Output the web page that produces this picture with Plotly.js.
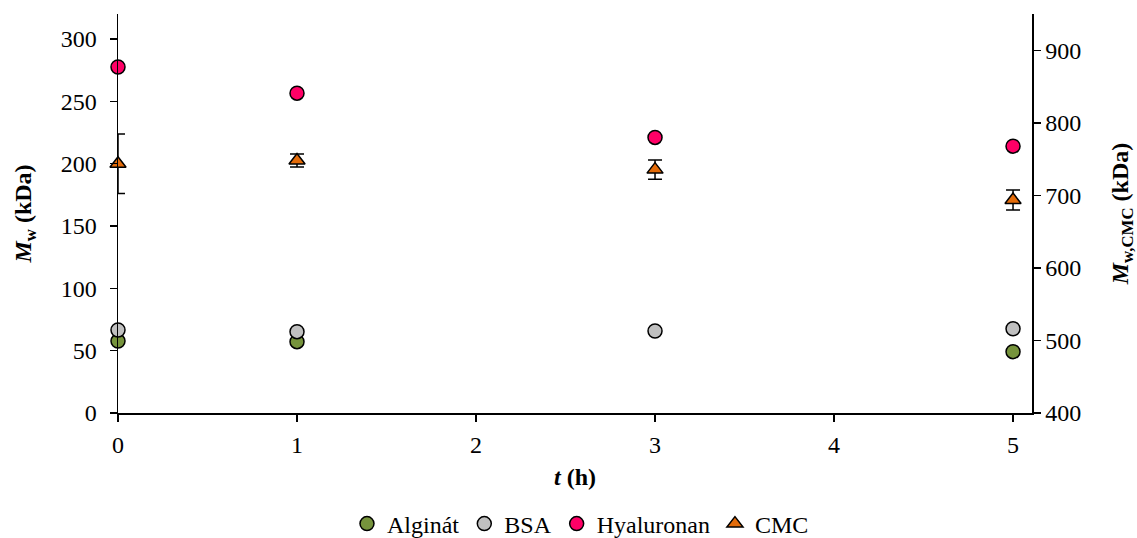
<!DOCTYPE html>
<html>
<head>
<meta charset="utf-8">
<script src="https://cdn.plot.ly/plotly-3.0.1.min.js"></script>
<style>html,body{margin:0;padding:0;background:#fff;}#chart{width:1137px;height:538px;}</style>
</head>
<body>
<div id="chart"></div>
<script>
const tAlginat = [0, 1, 5];
const alginat = [57.7, 57.2, 49.2];
const tBSA = [0, 1, 3, 5];
const bsa = [66.6, 65.2, 65.8, 67.6];
const tHyal = [0, 1, 3, 5];
const hyaluronan = [277.5, 256.5, 221, 214];
const tCMC = [0, 1, 3, 5];
const cmc = [743.5, 748, 735.5, 693.5];
const cmcErr = [41, 9, 13.3, 13.8];

const FONT = 'Liberation Serif';
const FS = 24;
const line = {color: '#000000', width: 1.5};

const traces = [
  {x: tAlginat, y: alginat, name: 'Alginát', type: 'scatter', mode: 'markers', cliponaxis: false,
   marker: {symbol: 'circle', size: 14, color: '#76933C', line: line}},
  {x: tBSA, y: bsa, name: 'BSA', type: 'scatter', mode: 'markers', cliponaxis: false,
   marker: {symbol: 'circle', size: 14, color: '#C0C0C0', line: line}},
  {x: tHyal, y: hyaluronan, name: 'Hyaluronan', type: 'scatter', mode: 'markers', cliponaxis: false,
   marker: {symbol: 'circle', size: 14, color: '#FF0066', line: line}},
  {x: tCMC, y: cmc, name: 'CMC', type: 'scatter', mode: 'markers', yaxis: 'y2', cliponaxis: false,
   marker: {symbol: 'triangle-up', size: 14, color: '#E46C0A', line: line},
   error_y: {type: 'data', array: cmcErr, visible: true, color: '#000000', thickness: 1.5, width: 7}}
];

const layout = {
  width: 1137, height: 538,
  margin: {l: 118, r: 105, t: 14, b: 125},
  paper_bgcolor: '#ffffff', plot_bgcolor: '#ffffff',
  font: {family: FONT, size: FS, color: '#000000'},
  showlegend: true,
  legend: {orientation: 'h', x: 0.506, xanchor: 'center', yref: 'container', y: 0.026, yanchor: 'middle',
           font: {family: FONT, size: FS, color: '#000'}, itemwidth: 30, tracegroupgap: 0,
           borderwidth: 0},
  xaxis: {
    range: [0, 5.106], tickvals: [0, 1, 2, 3, 4, 5], showgrid: false, zeroline: false,
    showline: true, linecolor: '#000', linewidth: 1.5,
    ticks: 'outside', ticklen: 7, tickwidth: 1.5, tickcolor: '#000', ticklabelstandoff: 3,
    tickfont: {family: FONT, size: FS},
    title: {text: '<b><i>t</i> (h)</b>', font: {family: FONT, size: FS}, standoff: 11}
  },
  yaxis: {
    range: [0, 320], tickvals: [0, 50, 100, 150, 200, 250, 300], showgrid: false, zeroline: false,
    showline: true, linecolor: '#000', linewidth: 1.5,
    ticks: 'outside', ticklen: 7, tickwidth: 1.5, tickcolor: '#000', ticklabelstandoff: 8,
    tickfont: {family: FONT, size: FS},
    title: {text: '<b><i>M</i><sub>w</sub> (kDa)</b>', font: {family: FONT, size: FS}, standoff: 22}
  },
  yaxis2: {
    overlaying: 'y', side: 'right',
    range: [400, 950], tickvals: [400, 500, 600, 700, 800, 900], showgrid: false, zeroline: false,
    showline: true, linecolor: '#000', linewidth: 1.5,
    ticks: 'outside', ticklen: 7, tickwidth: 1.5, tickcolor: '#000',
    tickfont: {family: FONT, size: FS},
    title: {text: '<b><i>M</i><sub>w,CMC</sub> (kDa)</b>', font: {family: FONT, size: FS}, standoff: 32}
  }
};

Plotly.newPlot('chart', traces, layout, {displayModeBar: false, staticPlot: true});
</script>
</body>
</html>
